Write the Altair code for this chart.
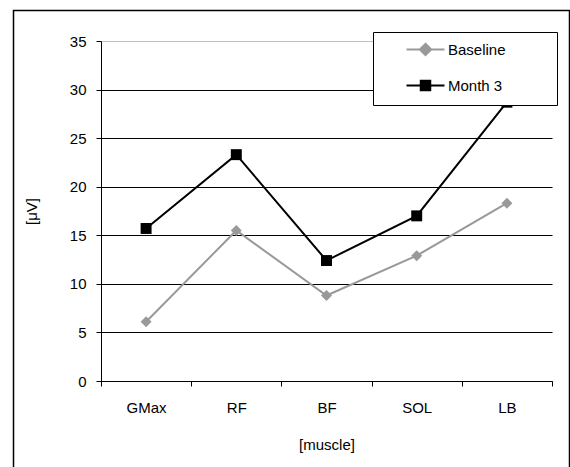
import altair as alt
import pandas as pd

muscles = ["GMax", "RF", "BF", "SOL", "LB"]
baseline = [6.1, 15.5, 8.8, 12.9, 18.3]
month3 = [15.7, 23.3, 12.4, 17.0, 28.7]
series_names = ["Baseline", "Month 3"]
series_colors = ["#999999", "#000000"]
y_ticks = [0, 5, 10, 15, 20, 25, 30, 35]

rows = []
for m, b, t in zip(muscles, baseline, month3):
    rows.append({"muscle": m, "series": "Baseline", "value": b})
    rows.append({"muscle": m, "series": "Month 3", "value": t})
df = pd.DataFrame(rows)

FONT = "Liberation Sans"

x_enc = alt.X(
    "muscle:N",
    sort=muscles,
    scale=alt.Scale(type="band", paddingInner=0, paddingOuter=0),
    axis=alt.Axis(
        title="[muscle]", labelAngle=0, tickBand="extent", tickSize=5,
        labelPadding=14, titlePadding=22, grid=False,
    ),
)
y_enc = alt.Y(
    "value:Q",
    scale=alt.Scale(domain=[0, 35], nice=False, zero=True),
    axis=alt.Axis(
        title="[μV]", values=y_ticks, tickSize=5, labelPadding=10,
        titlePadding=30, grid=True,
        gridColor={"condition": {"test": "datum.value == 35", "value": "#c0c0c0"}, "value": "#000000"},
    ),
)

color_scale = alt.Scale(domain=series_names, range=series_colors)

lines = alt.Chart(df).mark_line(strokeWidth=2).encode(
    x=x_enc, y=y_enc,
    color=alt.Color("series:N", scale=color_scale, legend=None),
)

points = alt.Chart(df).mark_point(filled=True, opacity=1, size=120).encode(
    x=x_enc, y=y_enc,
    color=alt.Color("series:N", scale=color_scale, legend=None),
    shape=alt.Shape("series:N", scale=alt.Scale(domain=series_names, range=["diamond", "square"]), legend=None),
)

legend_paths = [
    "M-3,0H3M0,-0.9L0.9,0L0,0.9L-0.9,0Z",
    "M-3,0H3M-0.75,-0.75H0.75V0.75H-0.75Z",
]
leg = alt.Legend(
    orient="none", legendX=272, legendY=-9,
    title="Mont", titleOrient="right", titleColor="rgba(0,0,0,0)",
    titleFont=FONT, titleFontSize=15, titlePadding=5,
    fillColor="white", strokeColor="black", padding=10, rowPadding=16,
    symbolSize=160, symbolStrokeWidth=2, symbolOffset=35, labelOffset=15,
    labelFont=FONT, labelFontSize=15, labelColor="black",
)
legend_layer = alt.Chart(df).transform_filter("false").mark_point(
    filled=True, opacity=1, strokeWidth=2
).encode(
    fill=alt.Fill("series:N", scale=alt.Scale(domain=series_names, range=series_colors), legend=leg),
    stroke=alt.Stroke("series:N", scale=alt.Scale(domain=series_names, range=series_colors), legend=leg),
    shape=alt.Shape("series:N", scale=alt.Scale(domain=series_names, range=legend_paths), legend=leg),
)

frame = alt.Chart(alt.InlineData(values=[{"f": 1}])).mark_rect(
    fillOpacity=0, stroke="black", strokeWidth=1.5
).encode(
    x=alt.value(-87.5), x2=alt.value(468.5), y=alt.value(-30.5), y2=alt.value(430),
)

chart = alt.layer(frame, lines, points, legend_layer).resolve_scale(
    shape="independent", fill="independent", stroke="independent"
).properties(
    width=451, height=340,
    autosize=alt.AutoSizeParams(type="none"),
    padding={"left": 101, "top": 41, "right": 18, "bottom": 86},
).configure(background="white").configure_view(stroke=None).configure_axis(
    labelFont=FONT, labelFontSize=15, labelColor="black",
    titleFont=FONT, titleFontSize=15, titleFontWeight="normal", titleColor="black",
    tickColor="black", domainColor="black",
)

chart.save("out.html", embed_options={"renderer": "svg", "actions": False})
